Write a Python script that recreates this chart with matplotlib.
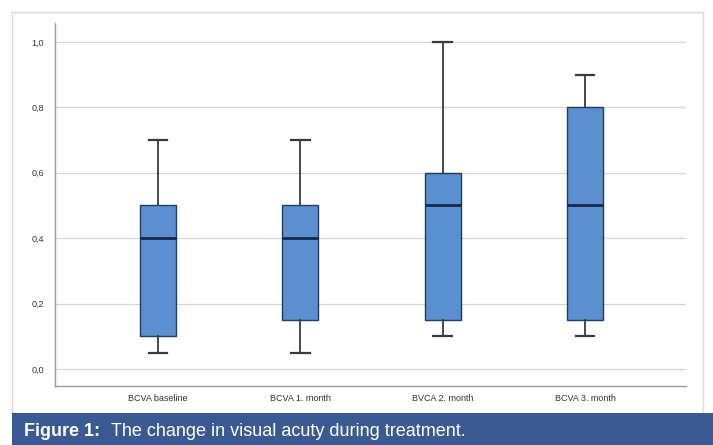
import matplotlib
matplotlib.use("Agg")
import matplotlib.pyplot as plt
from matplotlib.patches import Rectangle

categories = ["BCVA baseline", "BCVA 1. month", "BVCA 2. month", "BCVA 3. month"]
whislo = [0.05, 0.05, 0.10, 0.10]
q1 = [0.10, 0.15, 0.15, 0.15]
med = [0.40, 0.40, 0.50, 0.50]
q3 = [0.50, 0.50, 0.60, 0.80]
whishi = [0.70, 0.70, 1.00, 0.90]
yticks = [0.0, 0.2, 0.4, 0.6, 0.8, 1.0]
ytick_labels = ["0,0", "0,2", "0,4", "0,6", "0,8", "1,0"]

W, H = 713, 445
fig = plt.figure(figsize=(W / 100, H / 100), dpi=100)
fig.patch.set_facecolor("white")

# outer frame
fig.patches.append(Rectangle((12 / W, 0), (703 - 12) / W, (445 - 12) / H,
                             transform=fig.transFigure, facecolor="white",
                             edgecolor="#d9d9d9", linewidth=1.0, zorder=-2))
# caption banner
fig.patches.append(Rectangle((12 / W, 0), (W - 12) / W, (445 - 413) / H,
                             transform=fig.transFigure, facecolor="#3b5a92",
                             edgecolor="none", zorder=-1))

ax = fig.add_axes([55 / W, (H - 386) / H, (686 - 55) / W, (386 - 23) / H])
ax.set_zorder(2)
ax.patch.set_alpha(0)

stats = []
for i in range(len(categories)):
    stats.append(dict(whislo=whislo[i], q1=q1[i], med=med[i], q3=q3[i],
                      whishi=whishi[i], fliers=[], label=categories[i]))

positions = list(range(len(categories)))
ax.bxp(stats, positions=positions, widths=0.254, patch_artist=True,
       showfliers=False,
       boxprops=dict(facecolor="#5b8fd0", edgecolor="#263a5e", linewidth=1.0),
       medianprops=dict(color="#15284d", linewidth=2.0),
       whiskerprops=dict(color="#3a3a3a", linewidth=1.3),
       capprops=dict(color="#3a3a3a", linewidth=1.6),
       capwidths=0.13, zorder=3)

ax.set_xlim(-0.725, 3.71)
ax.set_ylim(-0.052, 1.058)
ax.set_yticks(yticks)
ax.set_yticklabels(ytick_labels)
ax.yaxis.grid(True, color="#d6d6d6", linewidth=0.9, zorder=0)
ax.set_axisbelow(True)
for s in ["top", "right"]:
    ax.spines[s].set_visible(False)
for s in ["left", "bottom"]:
    ax.spines[s].set_color("#9a9a9a")
    ax.spines[s].set_linewidth(1.0)
ax.tick_params(axis="both", length=0, labelsize=6.5, colors="#333333",
               labelfontfamily="Liberation Sans")
ax.tick_params(axis="y", pad=8)
ax.tick_params(axis="x", pad=6)

ycap = (445 - 432) / H
fig.text(24 / W, ycap, "Figure 1:", color="white",
         fontsize=13, fontweight="bold", va="center", ha="left",
         family="Liberation Sans", zorder=5)
fig.text(111 / W, ycap, "The change in visual acuty during treatment.",
         color="white", fontsize=13, va="center", ha="left",
         family="Liberation Sans", zorder=5)

fig.savefig("out.png", dpi=100, facecolor="white")
